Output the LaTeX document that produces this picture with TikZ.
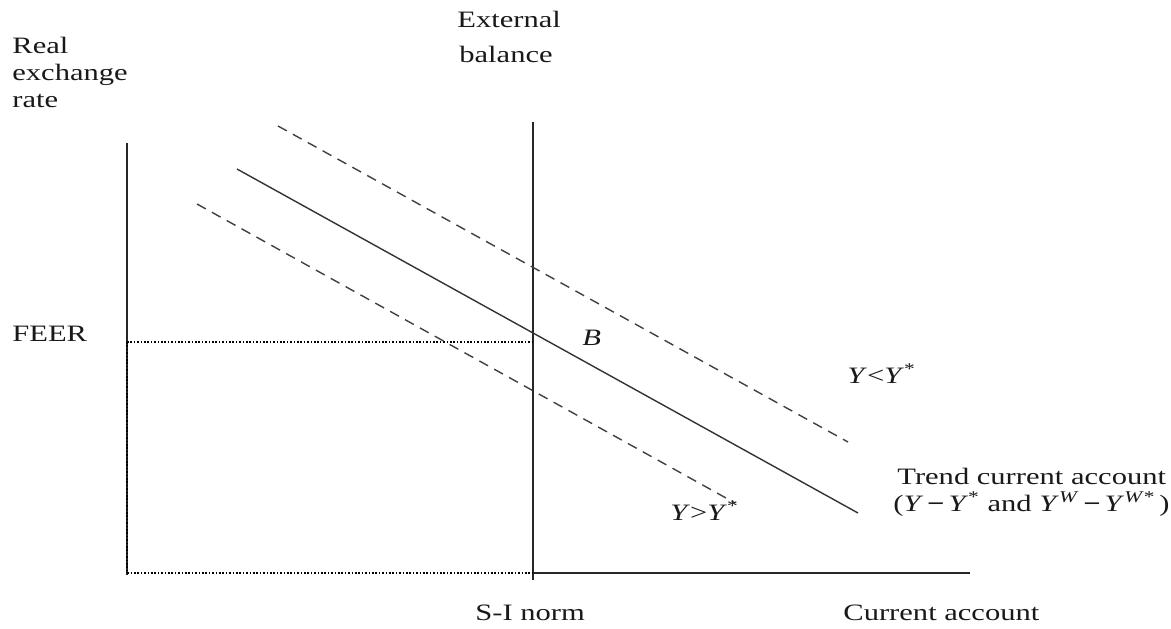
\documentclass[tikz,border=0pt]{standalone}
\usepackage{fontspec}
\setmainfont{Liberation Serif}[FakeStretch=1.3]
\begin{document}
\begin{tikzpicture}[x=0.5pt,y=-0.5pt,
  lbl/.style={inner sep=0pt, anchor=base west, text=black!90, font=\fontsize{11.75}{13.5}\selectfont},
  axisline/.style={line width=1pt, black!85},
  trendline/.style={line width=0.7pt, black!80},
  shiftline/.style={line width=0.7pt, black!75, dash pattern=on 5pt off 3.5pt},
  guideline/.style={line width=0.8pt, black, dash pattern=on 0.8pt off 0.9pt}]
\useasboundingbox (0,0) rectangle (1171,628);

% coordinates
\coordinate (ytop) at (127,143);
\coordinate (ybot) at (127,575);
\coordinate (ebtop) at (533,122);
\coordinate (ebbot) at (533,580);
\coordinate (norm) at (533,573);
\coordinate (xright) at (970,573);
\coordinate (feerL) at (127,342);
\coordinate (feerR) at (533,342);
\coordinate (orig) at (127,573);
\coordinate (tA) at (237,169);
\coordinate (tB) at (858,513);
\coordinate (uA) at (278,126);
\coordinate (uB) at (848,442);
\coordinate (lA) at (197,204);
\coordinate (lB) at (735,503);

% axes
\draw[axisline] (ytop) -- (ybot);
\draw[axisline] (ebtop) -- (ebbot);
\draw[axisline] (norm) -- (xright);
% guides
\draw[guideline] (feerL) -- (feerR);
\draw[guideline] (feerL) -- (orig) -- (norm);
% schedules
\draw[trendline] (tA) -- (tB);
\draw[shiftline] (uA) -- (uB);
\draw[shiftline] (lA) -- (lB);

% labels
\node[lbl] (real) at (12,53) {Real};
\node[lbl] (exch) at (12,80) {exchange};
\node[lbl] (rate) at (12,107) {rate};
\node[lbl] (ext) at (457,27) {External};
\node[lbl] (bal) at (459,62) {balance};
\node[lbl] (feer) at (12,341) {FEER};
\node[lbl] (B) at (582,345) {\textit{B}};
\node[lbl] (ylow) at (847,383) {\textit{Y}<\textit{Y}\textsuperscript{*}};
\node[lbl] (yhigh) at (670,520) {\textit{Y}>\textit{Y}\textsuperscript{*}};
\node[lbl] (trend1) at (897,484) {Trend current account};
\node[lbl] (trend2) at (893,511) {(\textit{Y}\,\textbf{−}\,\textit{Y}\textsuperscript{*} and \textit{Y}\textsuperscript{\textit{W}}\,\textbf{−}\,\textit{Y}\textsuperscript{\textit{W}*}\,)};
\node[lbl] (si) at (475,620) {S-I norm};
\node[lbl] (ca) at (843,620) {Current account};
\end{tikzpicture}
\end{document}
